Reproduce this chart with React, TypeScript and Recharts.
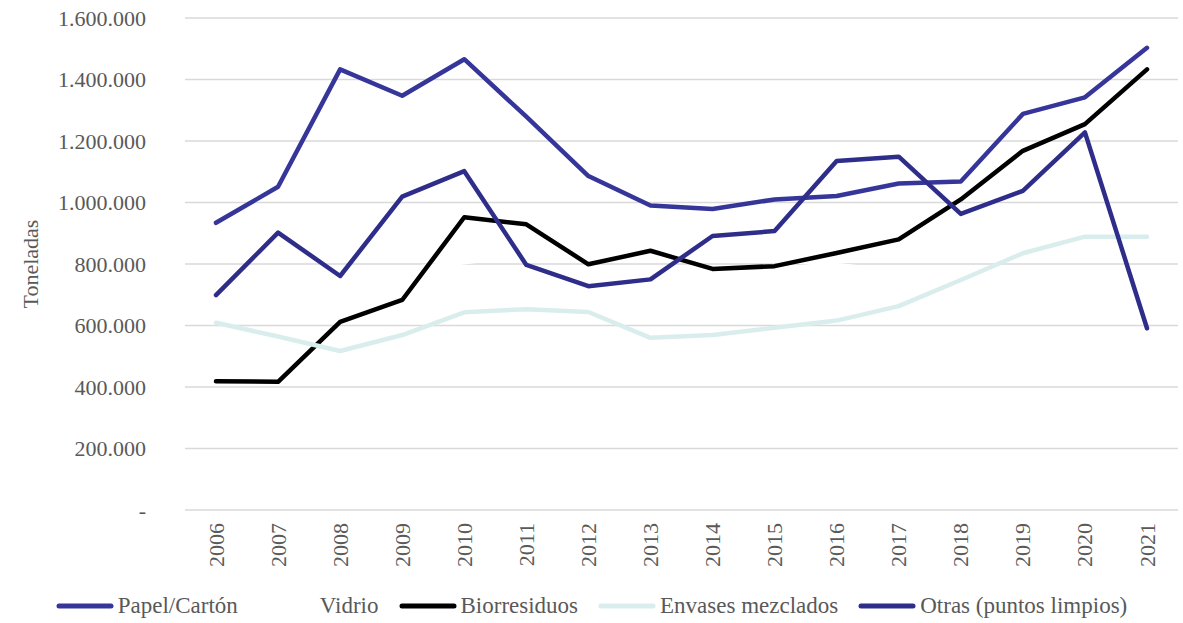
import React from 'react';
import { LineChart, Line, XAxis, YAxis, CartesianGrid } from 'recharts';

const YEARS = ['2006', '2007', '2008', '2009', '2010', '2011', '2012', '2013', '2014', '2015', '2016', '2017', '2018', '2019', '2020', '2021'];

const PAPEL = [934000, 1051000, 1433000, 1347000, 1466000, 1279000, 1086000, 990000, 979000, 1010000, 1021000, 1062000, 1068000, 1288000, 1342000, 1503000];
// white line in the original, only visible where it hides the gridlines
const VIDRIO = [690000, 725000, 760000, 783000, 806000, 830000, 835000, 830000, 825000, 815000, 797000, 775000, 765000, 770000, 780000, 785000];
const BIORRESIDUOS = [419000, 417000, 612000, 683000, 952000, 929000, 799000, 843000, 784000, 793000, 836000, 880000, 1010000, 1168000, 1255000, 1433000];
const ENVASES = [609000, 564000, 517000, 569000, 643000, 653000, 644000, 560000, 569000, 593000, 616000, 663000, 748000, 835000, 889000, 889000];
const OTRAS = [699000, 902000, 761000, 1019000, 1102000, 797000, 728000, 750000, 891000, 907000, 1135000, 1149000, 963000, 1038000, 1228000, 591000];

const Y_TICKS = [0, 200000, 400000, 600000, 800000, 1000000, 1200000, 1400000, 1600000];

const SERIES = [
  { key: 'papel', name: 'Papel/Cartón', color: '#35359a' },
  { key: 'vidrio', name: 'Vidrio', color: '#ffffff' },
  { key: 'bio', name: 'Biorresiduos', color: '#000000' },
  { key: 'envases', name: 'Envases mezclados', color: '#daeded' },
  { key: 'otras', name: 'Otras (puntos limpios)', color: '#2e2e8a' },
];

const data = YEARS.map((year, i) => ({
  year,
  papel: PAPEL[i],
  vidrio: VIDRIO[i],
  bio: BIORRESIDUOS[i],
  envases: ENVASES[i],
  otras: OTRAS[i],
}));

const FONT = 'Liberation Serif, serif';
const TEXT = '#595959';

function formatTons(v: number): string {
  if (v === 0) return '-';
  return String(v).replace(/\B(?=(\d{3})+(?!\d))/g, '.');
}

function YearTick({ x, y, payload }: any) {
  return (
    <text
      x={x}
      y={y}
      transform={`rotate(-90, ${x}, ${y})`}
      textAnchor="end"
      dominantBaseline="central"
      fill={TEXT}
      style={{ fontSize: 22, fontFamily: FONT }}
    >
      {payload.value}
    </text>
  );
}

function TonsTick({ x, y, payload }: any) {
  return (
    <text
      x={x}
      y={y}
      textAnchor="end"
      dominantBaseline="central"
      fill={TEXT}
      style={{ fontSize: 22, fontFamily: FONT }}
    >
      {formatTons(payload.value)}
    </text>
  );
}

function AxisTitle({ viewBox }: any) {
  const cx = 30;
  const cy = viewBox.y + viewBox.height / 2;
  return (
    <text
      x={cx}
      y={cy}
      transform={`rotate(-90, ${cx}, ${cy})`}
      textAnchor="middle"
      dominantBaseline="central"
      fill={TEXT}
      style={{ fontSize: 22, fontFamily: FONT }}
    >
      Toneladas
    </text>
  );
}

export default function App() {
  return (
    <div style={{ position: 'absolute', left: 0, top: 0, width: 1183, height: 623, background: '#fff', fontFamily: FONT }}>
      <LineChart
        width={1183}
        height={623}
        data={data}
        margin={{ top: 18, right: 5, left: 0, bottom: 53 }}
      >
        <CartesianGrid vertical={false} stroke="#d9d9d9" strokeWidth={1.4} />
        <XAxis
          dataKey="year"
          axisLine={false}
          tickLine={false}
          interval={0}
          height={60}
          padding={{ left: 31, right: 31 }}
          tick={<YearTick />}
          tickSize={0}
          tickMargin={13}
        />
        <YAxis
          width={185}
          domain={[0, 1600000]}
          ticks={Y_TICKS}
          interval={0}
          axisLine={false}
          tickLine={false}
          tickSize={6}
          tickMargin={33}
          tick={<TonsTick />}
          label={<AxisTitle />}
        />
        {SERIES.map((s) => (
          <Line
            key={s.key}
            type="linear"
            dataKey={s.key}
            name={s.name}
            stroke={s.color}
            strokeWidth={4.5}
            strokeLinecap="round"
            strokeLinejoin="round"
            dot={false}
            activeDot={false}
            isAnimationActive={false}
          />
        ))}
      </LineChart>
      <div
        style={{
          position: 'absolute',
          left: 0,
          right: 0,
          top: 592,
          display: 'flex',
          justifyContent: 'center',
          gap: 20,
          fontSize: 23,
          color: TEXT,
          lineHeight: '28px',
        }}
      >
        {SERIES.map((s) => (
          <span key={s.key} style={{ display: 'inline-flex', alignItems: 'center' }}>
            <svg width={58} height={8} style={{ marginRight: 4 }}>
              <line x1={3} y1={4} x2={55} y2={4} stroke={s.color} strokeWidth={5} strokeLinecap="round" />
            </svg>
            {s.name}
          </span>
        ))}
      </div>
    </div>
  );
}
